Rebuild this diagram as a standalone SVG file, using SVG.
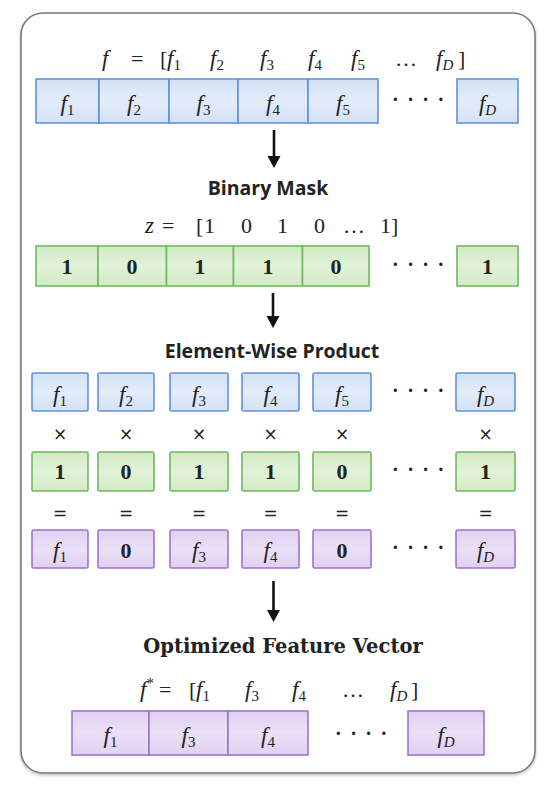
<svg xmlns="http://www.w3.org/2000/svg" width="550" height="786" viewBox="0 0 550 786">
<defs>
<filter id="sh" x="-5%" y="-5%" width="110%" height="110%">
<feDropShadow dx="0" dy="1.5" stdDeviation="1.5" flood-color="#000" flood-opacity="0.25"/>
</filter>
<linearGradient id="gb" x1="0" y1="0" x2="0" y2="1"><stop offset="0" stop-color="#d3e2f7"/><stop offset="0.5" stop-color="#e2ecfa"/><stop offset="1" stop-color="#d3e2f7"/></linearGradient>
<linearGradient id="gg" x1="0" y1="0" x2="0" y2="1"><stop offset="0" stop-color="#d2eac6"/><stop offset="0.5" stop-color="#e1f2d8"/><stop offset="1" stop-color="#d2eac6"/></linearGradient>
<linearGradient id="gp" x1="0" y1="0" x2="0" y2="1"><stop offset="0" stop-color="#e0d0f2"/><stop offset="0.5" stop-color="#ebe0f7"/><stop offset="1" stop-color="#e0d0f2"/></linearGradient>
</defs>
<style>
.b{fill:url(#gb);stroke:#5f93de;stroke-width:1.6}
.g{fill:url(#gg);stroke:#6fbb5c;stroke-width:1.6}
.p{fill:url(#gp);stroke:#9d74cf;stroke-width:1.6}
text{fill:#222}
.m{font-family:"Liberation Serif",serif;font-style:italic;font-size:23px}
.n{font-family:"Liberation Serif",serif;font-size:22px}
.s{font-style:normal;font-size:15px}
.si{font-style:italic;font-size:15px}
.d{font-family:"Liberation Serif",serif;font-weight:bold;font-size:22px}
.h{font-family:"Open Sans",sans-serif;font-weight:bold;font-size:19.5px}
.hs{font-family:"DejaVu Serif",serif;font-weight:bold;font-size:19.5px}
.dots{font-family:"Liberation Serif",serif;font-weight:bold;font-size:20px;letter-spacing:8.5px}
.op{font-family:"DejaVu Sans",sans-serif;font-size:17px}
.c{text-anchor:middle}
.ar{stroke:#111;stroke-width:2.6;fill:none}
</style>
<rect x="0" y="0" width="550" height="786" fill="#fff"/>
<rect id="frame" x="21" y="13" width="514" height="760" rx="22" fill="#fff" stroke="#7a7a7a" stroke-width="1.6" filter="url(#sh)"/>

<g id="formula-f">
<text class="m" x="102" y="66">f</text>
<text class="n" x="131" y="66">=</text>
<text class="n" x="160" y="66">[</text>
<text class="m" x="167" y="66">f<tspan class="s" dy="4">1</tspan></text>
<text class="m" x="210" y="66">f<tspan class="s" dy="4">2</tspan></text>
<text class="m" x="260" y="66">f<tspan class="s" dy="4">3</tspan></text>
<text class="m" x="308" y="66">f<tspan class="s" dy="4">4</tspan></text>
<text class="m" x="351" y="66">f<tspan class="s" dy="4">5</tspan></text>
<text class="n" x="395" y="66">…</text>
<text class="m" x="436" y="66">f<tspan class="si" dy="4">D</tspan></text>
<text class="n" x="458" y="66">]</text>
</g>

<g id="vector-f">
<g id="f-c1"><rect class="b" x="36" y="79" width="63" height="44"/><text class="m c" x="67.5" y="111">f<tspan class="s" dy="4">1</tspan></text></g>
<g id="f-c2"><rect class="b" x="99" y="79" width="70" height="44"/><text class="m c" x="134" y="111">f<tspan class="s" dy="4">2</tspan></text></g>
<g id="f-c3"><rect class="b" x="169" y="79" width="69" height="44"/><text class="m c" x="203.5" y="111">f<tspan class="s" dy="4">3</tspan></text></g>
<g id="f-c4"><rect class="b" x="238" y="79" width="70" height="44"/><text class="m c" x="273" y="111">f<tspan class="s" dy="4">4</tspan></text></g>
<g id="f-c5"><rect class="b" x="308" y="79" width="70" height="44"/><text class="m c" x="343" y="111">f<tspan class="s" dy="4">5</tspan></text></g>
<text class="dots" x="392" y="106">····</text>
<g id="f-cD"><rect class="b" x="457" y="79" width="61" height="44"/><text class="m c" x="487.5" y="111">f<tspan class="si" dy="4">D</tspan></text></g>
</g>

<g id="label-mask"><text class="h c" x="268" y="195">Binary Mask</text></g>

<g id="formula-z">
<text class="m" x="145" y="233">z</text>
<text class="n" x="162" y="233">=</text>
<text class="n" x="196" y="233">[</text>
<text class="n" x="204" y="233">1</text>
<text class="n" x="241" y="233">0</text>
<text class="n" x="277" y="233">1</text>
<text class="n" x="314" y="233">0</text>
<text class="n" x="343" y="233">…</text>
<text class="n" x="380" y="233">1</text>
<text class="n" x="391" y="233">]</text>
</g>

<g id="vector-z">
<g id="z-c1"><rect class="g" x="36" y="246" width="62" height="40"/><text class="d c" x="67" y="274">1</text></g>
<g id="z-c2"><rect class="g" x="98" y="246" width="68.5" height="40"/><text class="d c" x="132" y="274">0</text></g>
<g id="z-c3"><rect class="g" x="166.5" y="246" width="67" height="40"/><text class="d c" x="200" y="274">1</text></g>
<g id="z-c4"><rect class="g" x="233.5" y="246" width="69" height="40"/><text class="d c" x="268" y="274">1</text></g>
<g id="z-c5"><rect class="g" x="302.5" y="246" width="66.5" height="40"/><text class="d c" x="336" y="274">0</text></g>
<text class="dots" x="392" y="271">····</text>
<g id="z-cD"><rect class="g" x="457" y="246" width="61" height="40"/><text class="d c" x="487.5" y="274">1</text></g>
</g>

<g id="label-product"><text class="h c" x="272" y="358">Element-Wise Product</text></g>

<g id="product">
<g id="pf1"><rect class="b" x="32" y="373" width="56" height="38" rx="1.5"/><text class="m c" x="60" y="402">f<tspan class="s" dy="4">1</tspan></text></g>
<g id="pf2"><rect class="b" x="98" y="373" width="56" height="38" rx="1.5"/><text class="m c" x="126" y="402">f<tspan class="s" dy="4">2</tspan></text></g>
<g id="pf3"><rect class="b" x="170" y="373" width="58" height="38" rx="1.5"/><text class="m c" x="199" y="402">f<tspan class="s" dy="4">3</tspan></text></g>
<g id="pf4"><rect class="b" x="242" y="373" width="57" height="38" rx="1.5"/><text class="m c" x="270.5" y="402">f<tspan class="s" dy="4">4</tspan></text></g>
<g id="pf5"><rect class="b" x="313" y="373" width="58" height="38" rx="1.5"/><text class="m c" x="342" y="402">f<tspan class="s" dy="4">5</tspan></text></g>
<text class="dots" x="392" y="397">····</text>
<g id="pfD"><rect class="b" x="456" y="373" width="59" height="38" rx="1.5"/><text class="m c" x="485.5" y="402">f<tspan class="si" dy="4">D</tspan></text></g>

<text class="op c" x="60" y="440">×</text>
<text class="op c" x="126" y="440">×</text>
<text class="op c" x="199" y="440">×</text>
<text class="op c" x="270.5" y="440">×</text>
<text class="op c" x="342" y="440">×</text>
<text class="op c" x="485.5" y="440">×</text>

<g id="pz1"><rect class="g" x="32" y="452" width="56" height="39" rx="1.5"/><text class="d c" x="60" y="479">1</text></g>
<g id="pz2"><rect class="g" x="98" y="452" width="56" height="39" rx="1.5"/><text class="d c" x="126" y="479">0</text></g>
<g id="pz3"><rect class="g" x="170" y="452" width="58" height="39" rx="1.5"/><text class="d c" x="199" y="479">1</text></g>
<g id="pz4"><rect class="g" x="242" y="452" width="57" height="39" rx="1.5"/><text class="d c" x="270.5" y="479">1</text></g>
<g id="pz5"><rect class="g" x="313" y="452" width="58" height="39" rx="1.5"/><text class="d c" x="342" y="479">0</text></g>
<text class="dots" x="392" y="476">····</text>
<g id="pzD"><rect class="g" x="456" y="452" width="59" height="39" rx="1.5"/><text class="d c" x="485.5" y="479">1</text></g>

<text class="op c" x="60" y="519">=</text>
<text class="op c" x="126" y="519">=</text>
<text class="op c" x="199" y="519">=</text>
<text class="op c" x="270.5" y="519">=</text>
<text class="op c" x="342" y="519">=</text>
<text class="op c" x="485.5" y="519">=</text>

<g id="pr1"><rect class="p" x="32" y="530" width="56" height="38" rx="1.5"/><text class="m c" x="60" y="558">f<tspan class="s" dy="4">1</tspan></text></g>
<g id="pr2"><rect class="p" x="98" y="530" width="56" height="38" rx="1.5"/><text class="d c" x="126" y="558">0</text></g>
<g id="pr3"><rect class="p" x="170" y="530" width="58" height="38" rx="1.5"/><text class="m c" x="199" y="558">f<tspan class="s" dy="4">3</tspan></text></g>
<g id="pr4"><rect class="p" x="242" y="530" width="57" height="38" rx="1.5"/><text class="m c" x="270.5" y="558">f<tspan class="s" dy="4">4</tspan></text></g>
<g id="pr5"><rect class="p" x="313" y="530" width="58" height="38" rx="1.5"/><text class="d c" x="342" y="558">0</text></g>
<text class="dots" x="392" y="554">····</text>
<g id="prD"><rect class="p" x="456" y="530" width="59" height="38" rx="1.5"/><text class="m c" x="485.5" y="558">f<tspan class="si" dy="4">D</tspan></text></g>
</g>

<g id="label-optimized"><text class="hs c" x="283" y="653">Optimized Feature Vector</text></g>

<g id="formula-fstar">
<text class="m" x="140" y="697">f<tspan class="s" dy="-9">*</tspan></text>
<text class="n" x="159" y="697">=</text>
<text class="n" x="189" y="697">[</text>
<text class="m" x="196" y="697">f<tspan class="s" dy="4">1</tspan></text>
<text class="m" x="245" y="697">f<tspan class="s" dy="4">3</tspan></text>
<text class="m" x="292" y="697">f<tspan class="s" dy="4">4</tspan></text>
<text class="n" x="342" y="697">…</text>
<text class="m" x="390" y="697">f<tspan class="si" dy="4">D</tspan></text>
<text class="n" x="411" y="697">]</text>
</g>

<g id="vector-fstar">
<g id="fs-c1"><rect class="p" x="72" y="711" width="77" height="44"/><text class="m c" x="110.5" y="743">f<tspan class="s" dy="4">1</tspan></text></g>
<g id="fs-c3"><rect class="p" x="149" y="711" width="79" height="44"/><text class="m c" x="188.5" y="743">f<tspan class="s" dy="4">3</tspan></text></g>
<g id="fs-c4"><rect class="p" x="228" y="711" width="80" height="44"/><text class="m c" x="268" y="743">f<tspan class="s" dy="4">4</tspan></text></g>
<text class="dots" x="335" y="740">····</text>
<g id="fs-cD"><rect class="p" x="408" y="711" width="76" height="44"/><text class="m c" x="446" y="743">f<tspan class="si" dy="4">D</tspan></text></g>
</g>

<g id="connectors">
<line class="ar" x1="274" y1="130" x2="274" y2="157"/>
<path d="M267.5,156 L280.5,156 L274,168 Z" fill="#111"/>
<line class="ar" x1="273" y1="293" x2="273" y2="317"/>
<path d="M266.5,316 L279.5,316 L273,328 Z" fill="#111"/>
<line class="ar" x1="273.5" y1="581" x2="273.5" y2="611"/>
<path d="M267,610 L280,610 L273.5,622 Z" fill="#111"/>
</g>
</svg>
